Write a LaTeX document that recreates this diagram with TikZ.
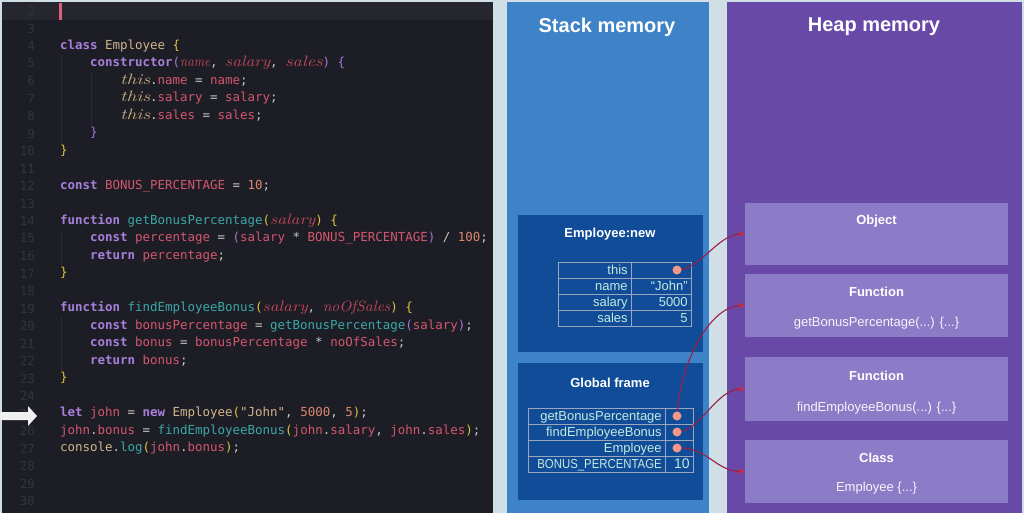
\documentclass[tikz,border=0pt]{standalone}
\usepackage{fontspec}
\usepackage{graphicx}
\setsansfont{Liberation Sans}
\newfontfamily\codefont{DejaVu Sans Mono}
\usetikzlibrary{arrows.meta}
\definecolor{bgc}{HTML}{CFDFE5}
\definecolor{codebg}{HTML}{1D1E25}
\definecolor{codehl}{HTML}{25262E}
\definecolor{cursorc}{HTML}{E0607A}
\definecolor{lnc}{HTML}{32343E}
\definecolor{guidec}{HTML}{2B2D36}
\definecolor{kwc}{HTML}{A97FDC}
\definecolor{idc}{HTML}{D4566F}
\definecolor{prmc}{HTML}{C8485E}
\definecolor{clsc}{HTML}{D2B48C}
\definecolor{thsc}{HTML}{C9AE7E}
\definecolor{fnc}{HTML}{3BA7A8}
\definecolor{numc}{HTML}{D98870}
\definecolor{opc}{HTML}{C4C4C8}
\definecolor{brA}{HTML}{E2C23E}
\definecolor{brB}{HTML}{A874D8}
\definecolor{stackc}{HTML}{3E83C7}
\definecolor{framec}{HTML}{114C98}
\definecolor{heapc}{HTML}{6849A8}
\definecolor{hboxc}{HTML}{8C7BC6}
\definecolor{cellline}{HTML}{9AA6BD}
\definecolor{celltext}{HTML}{C4EADF}
\definecolor{dotc}{HTML}{F2978A}
\definecolor{linkc}{HTML}{9C1F48}
\definecolor{tipc}{HTML}{D42A3C}
\newlength\chw
\setlength\chw{7.5pt}
\newcommand\ital[2]{\resizebox{#1\chw}{\height}{\rmfamily\itshape\fontsize{15}{15}\selectfont #2}}
\newcommand\ckw[1]{\textcolor{kwc}{\bfseries #1}}
\newcommand\cid[1]{\textcolor{idc}{#1}}
\newcommand\cprm[2]{\textcolor{prmc}{\ital{#1}{#2}}}
\newcommand\cths{\textcolor{thsc}{\ital{4}{this}}}
\newcommand\ccls[1]{\textcolor{clsc}{#1}}
\newcommand\cfn[1]{\textcolor{fnc}{#1}}
\newcommand\cnum[1]{\textcolor{numc}{#1}}
\newcommand\cop[1]{\textcolor{opc}{#1}}
\newcommand\cbA[1]{\textcolor{brA}{#1}}
\newcommand\cbB[1]{\textcolor{brB}{#1}}
\begin{document}
\begin{tikzpicture}[x=1pt,y=-1pt,
  code/.style={anchor=west,inner sep=0pt,text height=9pt,text depth=2.5pt,font=\codefont\fontsize{12.46}{14}\selectfont},
  lnum/.style={anchor=east,inner sep=0pt,text=lnc,font=\codefont\fontsize{12.46}{14}\selectfont},
  guide/.style={draw=guidec,line width=0.8pt},
  frame/.style={fill=framec,draw=none},
  ftitle/.style={text=white,font=\sffamily\bfseries\fontsize{13}{15}\selectfont,inner sep=0pt},
  ptitle/.style={text=white,font=\sffamily\bfseries\fontsize{20}{22}\selectfont,inner sep=0pt},
  cell/.style={draw=cellline,line width=0.8pt,minimum height=16pt,inner sep=0pt},
  ctext/.style={anchor=east,xshift=-3.5pt,inner sep=0pt,text=celltext,font=\sffamily\fontsize{13}{14}\selectfont,text height=9.3pt,text depth=0pt},
  dot/.style={circle,fill=dotc,inner sep=0pt,minimum size=9pt},
  hbox/.style={fill=hboxc,draw=none,minimum width=263pt,inner sep=0pt},
  htitle/.style={text=white,font=\sffamily\bfseries\fontsize{13}{15}\selectfont,inner sep=0pt},
  hsub/.style={text=white!92!hboxc,font=\sffamily\fontsize{13}{15}\selectfont,inner sep=0pt},
  link/.style={draw=linkc,line width=1.1pt,-{Stealth[length=7pt,width=5.5pt,color=tipc]}}]
\useasboundingbox (0,0) rectangle (1024,513);
\fill[bgc] (0,0) rectangle (1024,513);
% code panel
\fill[codebg] (2,2) rectangle (493,513);
\fill[codehl] (2,2) rectangle (493,20);
\fill[cursorc] (59,3) rectangle (61.5,20);
\foreach \n in {2,...,30} \node[lnum] (ln\n) at (35,{46+(\n-4)*17.5}) {\n};
\draw[guide] (61,55) -- (61,142);
\draw[guide] (91,72) -- (91,125);
\draw[guide] (61,230) -- (61,265);
\draw[guide] (61,317) -- (61,370);
\node[code] (c4) at (60,46) {\ckw{class} \ccls{Employee} \cbA{\{}};
\node[code] (c5) at (90,63.5) {\ckw{constructor}\cbB{(}\cprm{4}{name}\cop{,} \cprm{6}{salary}\cop{,} \cprm{5}{sales}\cbB{)} \cbB{\{}};
\node[code] (c6) at (120,81) {\cths\cop{.}\cid{name} \cop{=} \cid{name}\cop{;}};
\node[code] (c7) at (120,98.5) {\cths\cop{.}\cid{salary} \cop{=} \cid{salary}\cop{;}};
\node[code] (c8) at (120,116) {\cths\cop{.}\cid{sales} \cop{=} \cid{sales}\cop{;}};
\node[code] (c9) at (90,133.5) {\cbB{\}}};
\node[code] (c10) at (60,151) {\cbA{\}}};
\node[code] (c12) at (60,186) {\ckw{const} \cid{BONUS\_PERCENTAGE} \cop{=} \cnum{10}\cop{;}};
\node[code] (c14) at (60,221) {\ckw{function} \cfn{getBonusPercentage}\cbA{(}\cprm{6}{salary}\cbA{)} \cbA{\{}};
\node[code] (c15) at (90,238.5) {\ckw{const} \cid{percentage} \cop{=} \cbB{(}\cid{salary} \cop{*} \cid{BONUS\_PERCENTAGE}\cbB{)} \cop{/} \cnum{100}\cop{;}};
\node[code] (c16) at (90,256) {\ckw{return} \cid{percentage}\cop{;}};
\node[code] (c17) at (60,273.5) {\cbA{\}}};
\node[code] (c19) at (60,308.5) {\ckw{function} \cfn{findEmployeeBonus}\cbA{(}\cprm{6}{salary}\cop{,} \cprm{9}{noOfSales}\cbA{)} \cbA{\{}};
\node[code] (c20) at (90,326) {\ckw{const} \cid{bonusPercentage} \cop{=} \cfn{getBonusPercentage}\cbB{(}\cid{salary}\cbB{)}\cop{;}};
\node[code] (c21) at (90,343.5) {\ckw{const} \cid{bonus} \cop{=} \cid{bonusPercentage} \cop{*} \cid{noOfSales}\cop{;}};
\node[code] (c22) at (90,361) {\ckw{return} \cid{bonus}\cop{;}};
\node[code] (c23) at (60,378.5) {\cbA{\}}};
\node[code] (c25) at (60,413.5) {\ckw{let} \cid{john} \cop{=} \ckw{new} \ccls{Employee}\cbA{(}\ccls{"John"}\cop{,} \cnum{5000}\cop{,} \cnum{5}\cbA{)}\cop{;}};
\node[code] (c26) at (60,431) {\cid{john}\cop{.}\cid{bonus} \cop{=} \cfn{findEmployeeBonus}\cbA{(}\cid{john}\cop{.}\cid{salary}\cop{,} \cid{john}\cop{.}\cid{sales}\cbA{)}\cop{;}};
\node[code] (c27) at (60,448.5) {\ccls{console}\cop{.}\cfn{log}\cbA{(}\cid{john}\cop{.}\cid{bonus}\cbA{)}\cop{;}};
% execution arrow
\fill[white!94!black] (0,412) -- (28,412) -- (28,406) -- (37,416) -- (28,426) -- (28,420) -- (0,420) -- cycle;
% stack panel
\fill[stackc] (507,2) rectangle (709,513);
\node[ptitle] (stackt) at (607,27) {Stack memory};
\fill[frame] (518,215) rectangle (703,352);
\node[ftitle] (empt) at (610,234) {Employee:new};
\node[cell,minimum width=73pt] (e1l) at (594.5,270) {};
\node[cell,minimum width=60pt] (e1r) at (661,270) {};
\node[cell,minimum width=73pt] (e2l) at (594.5,286) {};
\node[cell,minimum width=60pt] (e2r) at (661,286) {};
\node[cell,minimum width=73pt] (e3l) at (594.5,302) {};
\node[cell,minimum width=60pt] (e3r) at (661,302) {};
\node[cell,minimum width=73pt] (e4l) at (594.5,318) {};
\node[cell,minimum width=60pt] (e4r) at (661,318) {};
\node[ctext] (e1lt) at (e1l.east) {this};
\node[ctext] (e2lt) at (e2l.east) {name};
\node[ctext] (e2rt) at (e2r.east) {“John”};
\node[ctext] (e3lt) at (e3l.east) {salary};
\node[ctext] (e3rt) at (e3r.east) {5000};
\node[ctext] (e4lt) at (e4l.east) {sales};
\node[ctext] (e4rt) at (e4r.east) {5};
\fill[frame] (518,363) rectangle (703,500);
\node[ftitle] (glt) at (610,383) {Global frame};
\node[cell,minimum width=137pt] (g1l) at (596.5,416) {};
\node[cell,minimum width=28pt] (g1r) at (679,416) {};
\node[cell,minimum width=137pt] (g2l) at (596.5,432) {};
\node[cell,minimum width=28pt] (g2r) at (679,432) {};
\node[cell,minimum width=137pt] (g3l) at (596.5,448) {};
\node[cell,minimum width=28pt] (g3r) at (679,448) {};
\node[cell,minimum width=137pt] (g4l) at (596.5,464) {};
\node[cell,minimum width=28pt] (g4r) at (679,464) {};
\node[ctext] (g1lt) at (g1l.east) {getBonusPercentage};
\node[ctext] (g2lt) at (g2l.east) {findEmployeeBonus};
\node[ctext] (g3lt) at (g3l.east) {Employee};
\node[ctext] (g4lt) at (g4l.east) {\scalebox{0.875}[1]{BONUS\_PERCENTAGE}};
\node[ctext,font=\sffamily\fontsize{14}{15}\selectfont] (g4rt) at (g4r.east) {10};
% heap panel
\fill[heapc] (727,2) rectangle (1022,513);
\node[ptitle] (heapt) at (874,27) {Heap memory};
\node[hbox,minimum height=62pt] (hobj) at (876.5,234) {};
\node[htitle] (hobjt) at (876.5,221) {Object};
\node[hbox,minimum height=63pt] (hf1) at (876.5,305.5) {};
\node[htitle] (hf1t) at (876.5,292) {Function};
\node[hsub] (hf1s) at (876.5,323) {getBonusPercentage(...) \{...\}};
\node[hbox,minimum height=64pt] (hf2) at (876.5,389) {};
\node[htitle] (hf2t) at (876.5,376) {Function};
\node[hsub] (hf2s) at (876.5,408) {findEmployeeBonus(...) \{...\}};
\node[hbox,minimum height=63pt] (hcls) at (876.5,471.5) {};
\node[htitle] (hclst) at (876.5,458) {Class};
\node[hsub] (hclss) at (876.5,488) {Employee \{...\}};
% pointer anchors, links, then dots on top
\coordinate (dthis) at (677,270);
\coordinate (dget) at (677,416);
\coordinate (dfind) at (677,432);
\coordinate (demp) at (677,448);
\draw[link] (dthis) .. controls (700,270) and (718,234) .. (hobj.west);
\draw[link] (dget) .. controls (680,362) and (710,306) .. (hf1.west);
\draw[link] (dfind) .. controls (700,432) and (716,389) .. (hf2.west);
\draw[link] (demp) .. controls (706,446) and (716,471.5) .. (hcls.west);
\node[dot] (pthis) at (dthis) {};
\node[dot] (pget) at (dget) {};
\node[dot] (pfind) at (dfind) {};
\node[dot] (pemp) at (demp) {};
\end{tikzpicture}
\end{document}
